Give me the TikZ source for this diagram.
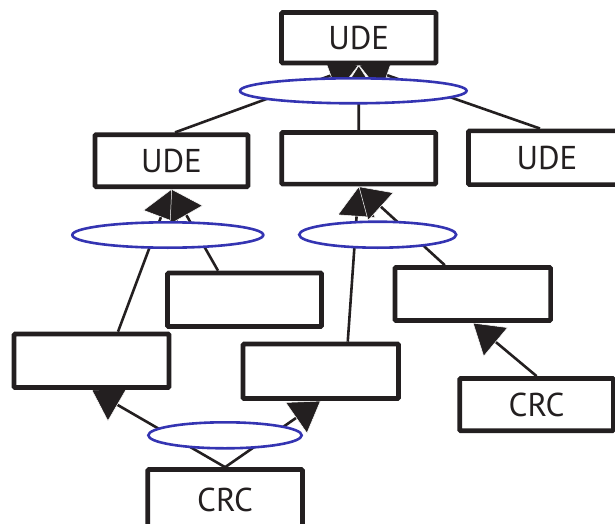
\documentclass[tikz,border=0pt]{standalone}
\usepackage{fontspec}
\setmainfont{PT Sans}
\usetikzlibrary{arrows.meta,shapes.geometric}
\pgfdeclarelayer{bg}
\pgfdeclarelayer{mid}
\pgfsetlayers{bg,mid,main}
\definecolor{ink}{RGB}{35,31,32}
\definecolor{andblue}{RGB}{52,52,178}
\begin{document}
\begin{tikzpicture}[x=1pt,y=-1pt,
  box/.style={draw=ink,line width=4.6pt,fill=white,inner sep=0pt,rounded corners=1pt,
    font=\fontsize{33}{33}\selectfont,text=ink},
  andell/.style={ellipse,draw=andblue,line width=2.6pt,fill=white,inner sep=0pt},
  conn/.style={draw=ink,line width=2.6pt,
    -{Triangle[length=30pt,width=38pt,fill=ink,color=white,line width=0.5pt]}}]
\useasboundingbox (0,0) rectangle (615,524);
\clip (0,0) rectangle (615,524);
% boxes
\node[box,minimum width=154.5pt,minimum height=50.5pt] (ude1) at (358.75,37.75) {UDE};
\node[box,minimum width=153pt,minimum height=52pt] (ude2) at (171.5,160.7) {UDE};
\node[box,minimum width=154pt,minimum height=51.7pt] (mid2) at (358.7,158.3) {};
\node[box,minimum width=157pt,minimum height=53.7pt] (ude3) at (547,157.7) {UDE};
\node[box,minimum width=154pt,minimum height=53.5pt] (ba) at (244.5,299.75) {};
\node[box,minimum width=155.7pt,minimum height=53pt] (bb) at (472.8,294) {};
\node[box,minimum width=155pt,minimum height=53.5pt] (bc) at (91.5,360.75) {};
\node[box,minimum width=155.5pt,minimum height=54.5pt] (bd) at (320.75,371.25) {};
\node[box,minimum width=153.7pt,minimum height=52.3pt] (crc1) at (536.6,404.6) {CRC};
\node[box,minimum width=154.7pt,minimum height=60pt] (crc2) at (225.1,499.5) {CRC};
% AND ellipses
\begin{pgfonlayer}{mid}
\node[andell,minimum width=226.6pt,minimum height=25pt] (e1) at (353.3,90.8) {};
\node[andell,minimum width=191pt,minimum height=25.4pt] (e2) at (167.8,235) {};
\node[andell,minimum width=157pt,minimum height=26pt] (e3) at (377.7,234.7) {};
\node[andell,minimum width=153.4pt,minimum height=26pt] (e4) at (225,435.3) {};
\end{pgfonlayer}
% connectors
\begin{pgfonlayer}{bg}
\draw[conn] ([xshift=3.5pt]ude2.north) -- (ude1.south);
\draw[conn] ([xshift=-7pt]ude3.north) -- (ude1.south);
\draw[conn] (mid2.north) -- (ude1.south);
\draw[conn] ([xshift=26.5pt]bc.north) -- (ude2.south);
\draw[conn] ([xshift=-26.5pt]ba.north) -- (ude2.south);
\draw[conn] ([xshift=27pt]bd.north) -- (mid2.south);
\draw[conn] ([xshift=-28pt]bb.north) -- (mid2.south);
\draw[conn] (crc2.north) -- (bc.south);
\draw[conn] (crc2.north) -- (bd.south);
\draw[conn] (crc1.north) -- (bb.south);
\end{pgfonlayer}
\end{tikzpicture}
\end{document}
